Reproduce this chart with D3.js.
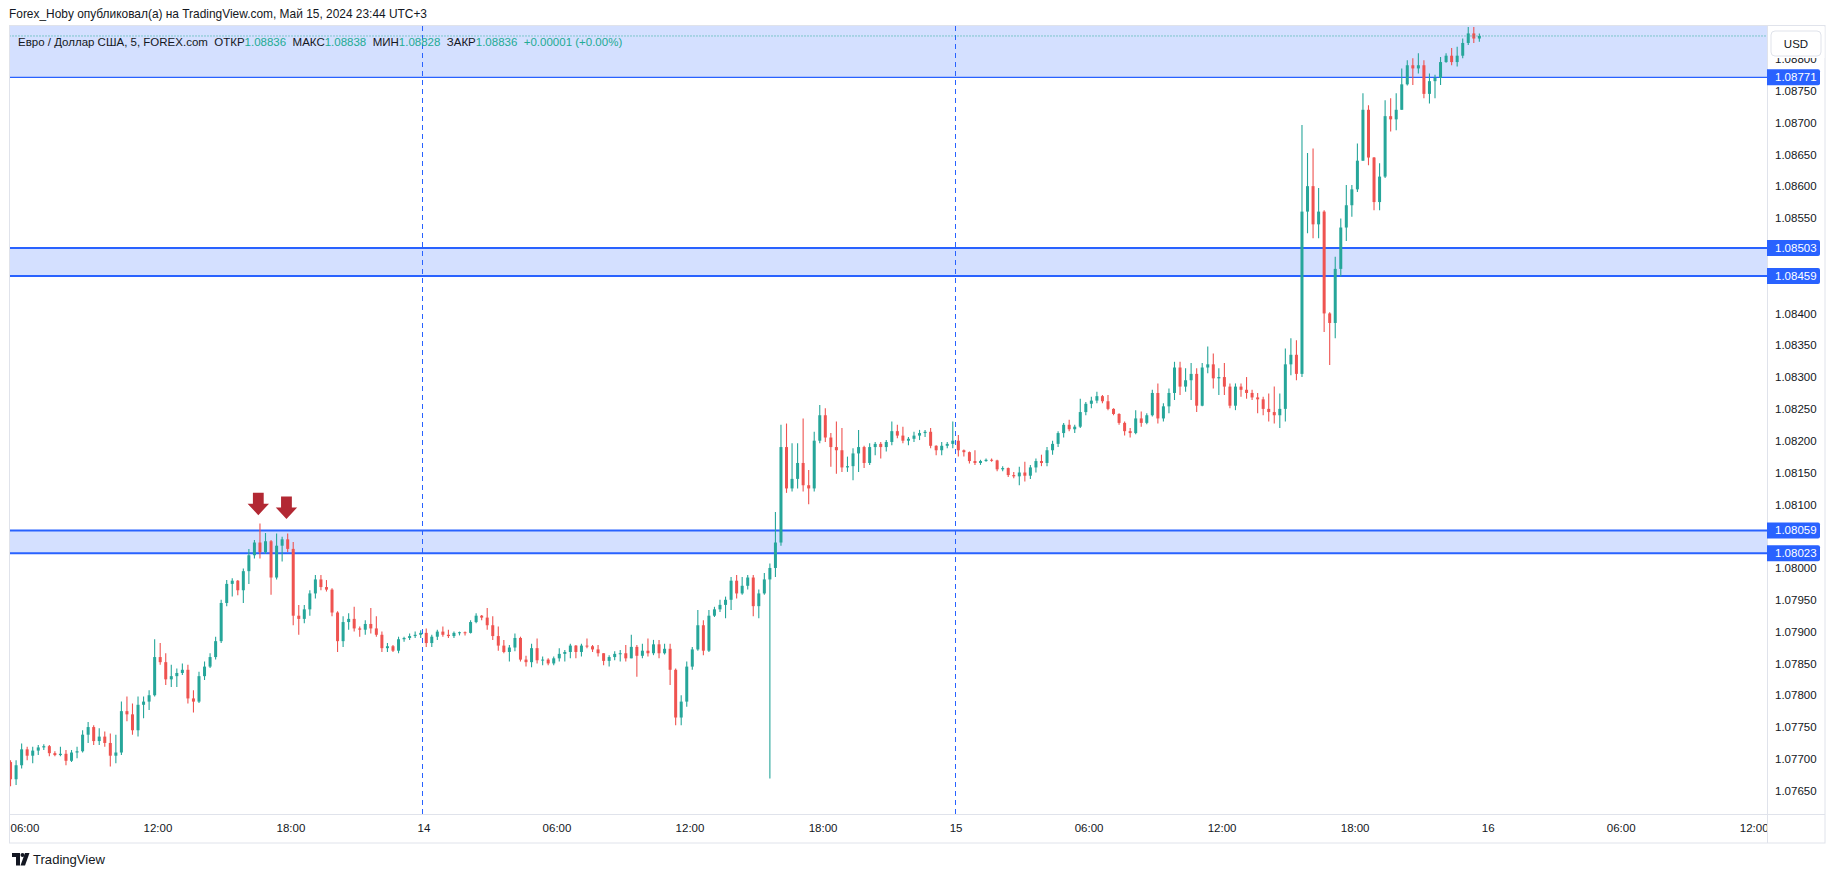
<!DOCTYPE html>
<html><head><meta charset="utf-8">
<script src="https://cdn.jsdelivr.net/npm/d3@7/dist/d3.min.js"></script>
<style>
html,body{margin:0;padding:0;background:#fff;}
svg{display:block;font-family:"Liberation Sans",Arial,"DejaVu Sans",sans-serif;}
</style>
</head><body>
<svg id="chart" width="1835" height="878"></svg>
<script>
// ---------------- DATA ----------------
// EUR/USD, 15-minute aggregation of the 5-min chart. Times in hours relative to 2024-05-14 00:00 (UTC+3).
const firstBarHour = -18.75;        // 2024-05-13 05:15
const barMinutes = 15;
const priceBase = 1.07;             // price = priceBase + pts * pointSize
const pointSize = 0.00001;

const openPts = [
 695,668,690,715,705,713,718,720,709,706, 708,697,710,712,738,750,728,735,725,705,
 710,775,770,745,785,790,800,860,852,825, 830,835,840,795,790,830,845,860,885,945,
 975,980,965,995,1020,1040,1025,1042,985,1035, 1045,1030,925,920,935,960,982,970,966,930,
 885,915,920,905,903,912,905,895,874,877, 870,888,890,893,895,898,882,892,900,895,
 893,898,899,898,915,925,922,910,893,878, 868,875,890,856,852,874,855,856,850,858,
 865,868,878,868,878,877,872,866,854,860, 865,866,858,876,862,870,866,880,866,873,
 840,765,790,845,872,910,870,925,935,942, 950,980,960,972,985,940,960,982,1000,1040,
 1190,1125,1140,1165,1130,1125,1200,1240,1205,1190, 1185,1158,1160,1180,1190,1165,1190,1195,1190,1198,
 1215,1208,1200,1203,1208,1212,1214,1192,1185,1192, 1195,1200,1185,1182,1168,1165,1168,1170,1169,1155,
 1157,1146,1144,1150,1145,1158,1168,1165,1185,1195, 1212,1225,1218,1222,1245,1258,1263,1270,1262,1250,
 1242,1228,1215,1212,1235,1228,1240,1275,1235,1254, 1275,1315,1285,1295,1305,1255,1315,1320,1298,1300,
 1285,1255,1285,1280,1275,1268,1265,1250,1245,1240, 1250,1320,1335,1305,1560,1600,1540,1560,1400,1385,
 1470,1535,1570,1595,1640,1720,1645,1575,1615,1710, 1705,1720,1760,1790,1785,1790,1745,1765,1770,1795,
 1805,1795,1805,1825,1840,1832
];
const highPts = [
 698,698,724,719,719,722,723,722,712,719, 714,714,719,745,758,753,748,743,740,738,
 790,798,787,798,798,808,888,882,866,848, 842,850,848,808,837,853,866,892,950,981,
 984,981,999,1030,1044,1070,1055,1044,1054,1049, 1054,1041,942,942,965,989,989,981,968,932,
 924,929,939,908,918,937,924,900,882,879, 892,892,897,900,902,905,895,903,908,903,
 900,900,900,918,929,926,937,924,908,887, 879,897,892,862,881,889,861,858,861,874,
 871,881,879,881,889,879,879,866,863,869, 871,879,895,879,881,889,887,887,881,881,
 842,800,853,876,934,918,934,939,950,955, 986,989,986,989,989,966,992,1007,1088,1225,
 1227,1196,1196,1235,1154,1214,1256,1251,1212,1230, 1220,1175,1188,1217,1192,1196,1198,1198,1201,1230,
 1225,1222,1206,1214,1217,1217,1220,1193,1198,1198, 1230,1209,1186,1183,1185,1170,1172,1172,1170,1160,
 1158,1151,1159,1167,1162,1172,1178,1190,1200,1215, 1228,1233,1225,1266,1261,1269,1277,1272,1272,1251,
 1243,1230,1220,1248,1246,1243,1280,1290,1259,1282, 1324,1324,1314,1322,1314,1322,1348,1337,1314,1322,
 1290,1290,1290,1300,1280,1275,1269,1274,1285,1274, 1345,1361,1358,1696,1652,1659,1597,1562,1402,1489,
 1549,1602,1602,1667,1746,1727,1646,1636,1735,1738, 1746,1785,1798,1801,1809,1798,1777,1775,1803,1809,
 1817,1819,1832,1850,1850,1840
];
const lowPts = [
 657,659,685,698,693,706,714,704,704,704, 690,695,701,710,725,722,722,719,688,693,
 706,759,738,735,764,777,798,848,816,813, 813,832,787,773,788,824,843,856,882,940,
 955,957,945,975,1015,1015,1022,958,982,1010, 1025,910,895,913,925,952,965,963,924,868,
 876,903,900,892,895,897,892,868,868,868, 866,884,887,890,890,876,876,887,892,890,
 890,894,894,897,913,918,903,887,870,866, 853,869,853,845,844,850,847,847,847,853,
 853,858,858,861,874,868,861,847,845,855, 853,853,858,829,858,861,863,858,864,816,
 753,753,782,840,870,863,868,923,931,921, 934,952,958,966,924,921,958,669,986,1035,
 1118,1120,1125,1120,1100,1120,1196,1198,1159,1148, 1151,1151,1138,1151,1157,1162,1177,1172,1183,1193,
 1204,1196,1193,1198,1201,1206,1188,1177,1177,1188, 1188,1175,1175,1164,1162,1162,1167,1167,1152,1152,
 1143,1141,1130,1136,1140,1150,1160,1160,1178,1190, 1205,1215,1212,1220,1240,1251,1259,1259,1248,1240,
 1225,1208,1205,1210,1222,1226,1238,1227,1230,1243, 1264,1272,1277,1264,1245,1254,1306,1282,1272,1272,
 1251,1248,1269,1266,1264,1243,1240,1230,1227,1220, 1230,1303,1295,1300,1526,1518,1518,1371,1319,1361,
 1458,1514,1552,1591,1640,1633,1562,1562,1613,1686, 1688,1720,1758,1759,1777,1738,1730,1738,1759,1794,
 1790,1788,1801,1822,1825,1827
];
const closePts = [
 668,690,715,705,713,718,720,709,706,708, 697,710,712,738,750,728,735,725,705,710,
 775,770,745,785,790,800,860,852,825,830, 835,840,795,790,830,845,860,885,945,975,
 980,965,995,1020,1040,1025,1042,985,1035,1045, 1030,925,920,935,960,982,970,966,930,885,
 915,920,905,903,912,905,895,874,877,870, 888,890,893,895,898,882,892,900,895,893,
 898,899,898,915,925,922,910,893,878,868, 875,890,856,852,874,855,856,850,858,865,
 868,878,868,878,877,872,866,854,860,865, 866,858,876,862,870,866,880,866,873,840,
 765,790,845,872,910,870,925,935,942,950, 980,960,972,985,940,960,982,1000,1040,1190,
 1125,1140,1165,1130,1125,1200,1240,1205,1190,1185, 1158,1160,1180,1190,1165,1190,1195,1190,1198,1215,
 1208,1200,1203,1208,1212,1214,1192,1185,1192,1195, 1200,1185,1182,1168,1165,1168,1170,1169,1155,1157,
 1146,1144,1150,1145,1158,1168,1165,1185,1195,1212, 1225,1218,1222,1245,1258,1263,1270,1262,1250,1242,
 1228,1215,1212,1235,1228,1240,1275,1235,1254,1275, 1315,1285,1295,1305,1255,1315,1320,1298,1300,1285,
 1255,1285,1280,1275,1268,1265,1250,1245,1240,1250, 1320,1335,1305,1560,1600,1540,1560,1400,1385,1470,
 1535,1570,1595,1640,1720,1645,1575,1615,1710,1705, 1720,1760,1790,1785,1790,1745,1765,1770,1795,1805,
 1795,1805,1825,1840,1832,1836
];

// Horizontal zones (price ranges)
const zoneLow  = [1.08771, 1.08459, 1.08023];
const zoneHigh = [1.08900, 1.08503, 1.08059];
const levelLabels = [1.08771, 1.08503, 1.08459, 1.08059, 1.08023];
const lastPrice = 1.08836;

// Day separators (hours)
const daySeparatorHours = [0, 24];

// Arrow markers (tip time in hours, tip price)
const arrowHours  = [-7.45, -6.18];
const arrowPrices = [1.08083, 1.08077];

// Axis ticks
const timeTickHours  = [-18,-12,-6,0,6,12,18,24,30,36,42,48,54,60];
const timeTickLabels = ["06:00","12:00","18:00","14","06:00","12:00","18:00","15","06:00","12:00","18:00","16","06:00","12:00"];
const priceTicks = [1.0765,1.077,1.0775,1.078,1.0785,1.079,1.0795,1.08,1.0805,1.081,1.0815,1.082,1.0825,1.083,1.0835,1.084,1.0845,1.085,1.0855,1.086,1.0865,1.087,1.0875,1.088];

// Texts
const headerText = "Forex_Hoby опубликовал(а) на TradingView.com, Май 15, 2024 23:44 UTC+3";
const legendTitle = "Евро / Доллар США, 5, FOREX.com";
const legendNames  = ["ОТКР", "МАКС", "МИН", "ЗАКР"];
const legendValues = ["1.08836", "1.08838", "1.08828", "1.08836"];
const legendChange = "+0.00001 (+0.00%)";

// ---------------- LAYOUT / STYLE ----------------
const pane = {x0: 9.5, x1: 1767, y0: 26, y1: 814};
const frameRight = 1825, frameBottom = 843;
const UP = "#26a69a", DOWN = "#ef5350", BLUE = "#2962ff", TEXT = "#131722", BORDER = "#e0e3eb", TEAL = "#22ab94";

const x = d3.scaleLinear().domain([-18, 60]).range([24.4, 1753.7]);
const y = d3.scaleLinear().domain([1.0765, 1.0875]).range([790.7, 90.7]);

const svg = d3.select("#chart");
svg.append("rect").attr("width", 1835).attr("height", 878).attr("fill", "#fff");

const defs = svg.append("defs");
defs.append("clipPath").attr("id", "paneClip").append("rect")
  .attr("x", pane.x0).attr("y", pane.y0).attr("width", pane.x1 - pane.x0).attr("height", pane.y1 - pane.y0);
defs.append("clipPath").attr("id", "timeClip").append("rect")
  .attr("x", pane.x0).attr("y", pane.y1).attr("width", pane.x1 - pane.x0).attr("height", frameBottom - pane.y1);

const g = svg.append("g").attr("clip-path", "url(#paneClip)");

// zones
const zoneIdx = d3.range(zoneLow.length);
g.selectAll("rect.zone").data(zoneIdx).join("rect").attr("class", "zone")
  .attr("x", pane.x0).attr("width", pane.x1 - pane.x0)
  .attr("y", i => y(zoneHigh[i])).attr("height", i => y(zoneLow[i]) - y(zoneHigh[i]))
  .attr("fill", "rgba(41,98,255,0.2)");
const zoneLines = [];
zoneIdx.forEach(i => { zoneLines.push({p: zoneHigh[i], w: i === 0 ? 1 : 2}); zoneLines.push({p: zoneLow[i], w: i === 0 ? 1.2 : 2}); });
g.selectAll("line.zl").data(zoneLines).join("line").attr("class", "zl")
  .attr("x1", pane.x0).attr("x2", pane.x1)
  .attr("y1", d => y(d.p)).attr("y2", d => y(d.p))
  .attr("stroke", BLUE).attr("stroke-width", d => d.w);

// day separators
g.selectAll("line.day").data(daySeparatorHours).join("line").attr("class", "day")
  .attr("x1", d => Math.round(x(d)) - 0.5).attr("x2", d => Math.round(x(d)) - 0.5)
  .attr("y1", pane.y0).attr("y2", pane.y1)
  .attr("stroke", BLUE).attr("stroke-width", 1).attr("stroke-dasharray", "5,4");

// candles
const bars = openPts.map((o, i) => ({
  h: firstBarHour + i * barMinutes / 60 + barMinutes / 120,
  o: priceBase + o * pointSize, hi: priceBase + highPts[i] * pointSize,
  lo: priceBase + lowPts[i] * pointSize, c: priceBase + closePts[i] * pointSize
}));
const bodyW = 3;
const cg = g.append("g");
cg.selectAll("line.wick").data(bars).join("line").attr("class", "wick")
  .attr("x1", d => x(d.h)).attr("x2", d => x(d.h))
  .attr("y1", d => y(d.hi)).attr("y2", d => y(d.lo))
  .attr("stroke", d => d.c >= d.o ? UP : DOWN).attr("stroke-width", 1.1);
cg.selectAll("rect.body").data(bars).join("rect").attr("class", "body")
  .attr("x", d => x(d.h) - bodyW / 2).attr("width", bodyW)
  .attr("y", d => y(Math.max(d.o, d.c)))
  .attr("height", d => Math.max(1, Math.abs(y(d.o) - y(d.c))))
  .attr("fill", d => d.c >= d.o ? UP : DOWN);

// last price dotted line
g.append("line").attr("x1", pane.x0).attr("x2", pane.x1)
  .attr("y1", y(lastPrice)).attr("y2", y(lastPrice))
  .attr("stroke", TEAL).attr("stroke-width", 1).attr("stroke-dasharray", "1,2");

// arrows
const arrowPath = "M0,0 L-10.7,-11.5 L-5.4,-11.5 L-5.4,-22.5 L5.4,-22.5 L5.4,-11.5 L10.7,-11.5 Z";
g.selectAll("path.arrow").data(d3.range(arrowHours.length)).join("path").attr("class", "arrow")
  .attr("d", arrowPath)
  .attr("transform", i => `translate(${x(arrowHours[i])},${y(arrowPrices[i])})`)
  .attr("fill", "#b22833");

// frame / separators
svg.append("rect").attr("x", pane.x0).attr("y", pane.y0 - 0.5)
  .attr("width", frameRight - pane.x0).attr("height", frameBottom - pane.y0 + 0.5)
  .attr("fill", "none").attr("stroke", BORDER).attr("stroke-width", 1);
svg.append("line").attr("x1", pane.x1 + 0.5).attr("x2", pane.x1 + 0.5).attr("y1", pane.y0).attr("y2", frameBottom)
  .attr("stroke", BORDER);
svg.append("line").attr("x1", pane.x0).attr("x2", frameRight).attr("y1", pane.y1 + 0.5).attr("y2", pane.y1 + 0.5)
  .attr("stroke", BORDER);

// price axis (ticks hidden behind the level labels are not drawn)
const visibleTicks = priceTicks.filter(p => levelLabels.every(l => Math.abs(y(p) - y(l)) > 11));
const yAxis = d3.axisRight(y).tickValues(visibleTicks).tickFormat(d => d.toFixed(5)).tickSize(0).tickPadding(8);
const ya = svg.append("g").attr("transform", `translate(${pane.x1},0)`).call(yAxis);
ya.select(".domain").remove();
ya.selectAll("text").attr("font-size", 11.5).attr("fill", TEXT).attr("font-family", "Liberation Sans, Arial, sans-serif");

// level labels
const ll = svg.append("g").selectAll("g").data(levelLabels).join("g")
  .attr("transform", d => `translate(${pane.x1},${y(d)})`);
ll.append("path").attr("d", "M0,-8 H51 Q53,-8 53,-6 V6 Q53,8 51,8 H0 Z").attr("fill", BLUE);
ll.append("text").attr("x", 8).attr("dy", "0.35em").attr("font-size", 11.5).attr("fill", "#fff")
  .text(d => d.toFixed(5));

// USD button (with its white backing that hides the top tick partly)
svg.append("rect").attr("x", 1768.5).attr("y", 27).attr("width", 56).attr("height", 31).attr("fill", "#fff");
svg.append("rect").attr("x", 1771).attr("y", 31).attr("width", 50).attr("height", 25).attr("rx", 4)
  .attr("fill", "#fff").attr("stroke", BORDER);
svg.append("text").attr("x", 1796).attr("y", 43.5).attr("dy", "0.35em").attr("text-anchor", "middle")
  .attr("font-size", 11.5).attr("fill", TEXT).text("USD");

// time axis
const xAxis = d3.axisBottom(x).tickValues(timeTickHours).tickFormat((d, i) => timeTickLabels[i]).tickSize(0).tickPadding(0);
const xa = svg.append("g").attr("clip-path", "url(#timeClip)").append("g")
  .attr("transform", `translate(0,${pane.y1 + 10})`).call(xAxis);
xa.select(".domain").remove();
xa.selectAll("text").attr("font-size", 11.5).attr("fill", TEXT).attr("font-family", "Liberation Sans, Arial, sans-serif");

// header
svg.append("text").attr("x", 9).attr("y", 13).attr("dy", "0.35em").attr("font-size", 13).attr("fill", TEXT)
  .attr("textLength", 418).attr("lengthAdjust", "spacingAndGlyphs").text(headerText);

// legend (one text line with coloured values)
const lg = svg.append("text").attr("x", 18).attr("y", 42).attr("dy", "0.35em").attr("font-size", 11.5)
  .attr("fill", TEXT).style("white-space", "pre");
lg.append("tspan").text(legendTitle + "  ");
legendNames.forEach((n, i) => {
  lg.append("tspan").text(n);
  lg.append("tspan").attr("fill", TEAL).text(legendValues[i]);
  lg.append("tspan").text("  ");
});
lg.append("tspan").attr("fill", TEAL).text(legendChange);

// TradingView logo
const logo = svg.append("g").attr("fill", TEXT);
logo.append("path").attr("d", "M12,853 H20 V865.5 H16 V857 H12 Z");
logo.append("circle").attr("cx", 22.5).attr("cy", 855).attr("r", 2);
logo.append("path").attr("d", "M25,853 H29.5 L25,865.5 H20.5 Z");
svg.append("text").attr("x", 33).attr("y", 859).attr("dy", "0.35em").attr("font-size", 13).attr("fill", TEXT)
  .attr("textLength", 72).attr("lengthAdjust", "spacingAndGlyphs").text("TradingView");
</script>
</body></html>
